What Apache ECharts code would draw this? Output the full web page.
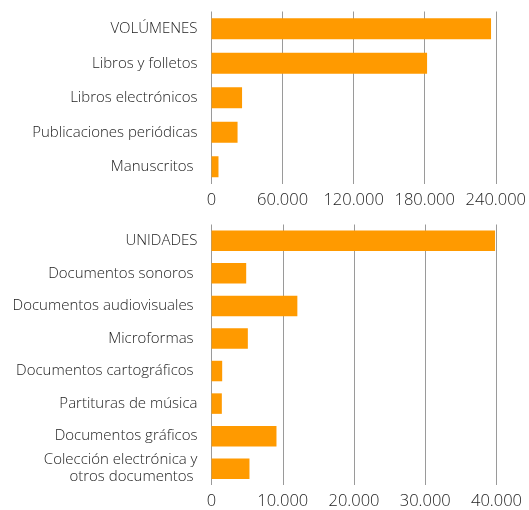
<!DOCTYPE html>
<html><head><meta charset="utf-8">
<script src="https://cdn.jsdelivr.net/npm/echarts@6/dist/echarts.min.js"></script>
<style>html,body{margin:0;padding:0;background:#fff}#c{width:529px;height:510px}</style>
</head><body><div id="c"></div>
<script>
const volCategories = ["VOLÚMENES", "Libros y folletos", "Libros electrónicos", "Publicaciones periódicas", "Manuscritos "];
const volValues = [236000, 182000, 25800, 22000, 5900];
const volTicks = [0, 60000, 120000, 180000, 240000];

const uniCategories = ["UNIDADES", "Documentos sonoros ", "Documentos audiovisuales ", "Microformas ", "Documentos cartográficos ", "Partituras de música", "Documentos gráficos", "Colección electrónica y\notros documentos "];
const uniValues = [39800, 4870, 12050, 5100, 1500, 1450, 9120, 5330];
const uniTicks = [0, 10000, 20000, 30000, 40000];

const FONT = "Open Sans";
const fmt = v => String(Math.round(v)).replace(/\B(?=(\d{3})+(?!\d))/g, ".");
const orange = "#ff9a00";

function xAx(gi, ticks) {
  return {
    type: "value", gridIndex: gi, min: ticks[0], max: ticks[ticks.length - 1],
    interval: ticks[1] - ticks[0],
    axisLine: { show: false }, axisTick: { show: false },
    splitLine: { show: true, lineStyle: { color: "#9a9a9a", width: 1 } },
    axisLabel: { formatter: fmt, color: "#222", fontFamily: FONT, fontWeight: 300, fontSize: 16.5, margin: 8 }
  };
}
function yAx(gi, cats) {
  return {
    type: "category", gridIndex: gi, data: cats, inverse: true,
    axisLine: { show: false }, axisTick: { show: false },
    axisLabel: { color: "#222", fontFamily: FONT, fontWeight: 300, fontSize: 15, margin: 14, lineHeight: 17 }
  };
}
const chart = echarts.init(document.getElementById("c"), null, { renderer: "canvas" });
chart.setOption({
  animation: false,
  grid: [
    { left: 211.5, right: 32.5, top: 11.5, height: 172.5 },
    { left: 211.5, right: 32.5, top: 224.5, height: 262 }
  ],
  xAxis: [xAx(0, volTicks), xAx(1, uniTicks)],
  yAxis: [yAx(0, volCategories), yAx(1, uniCategories)],
  series: [
    { type: "bar", xAxisIndex: 0, yAxisIndex: 0, data: volValues, barWidth: 21, itemStyle: { color: orange } },
    { type: "bar", xAxisIndex: 1, yAxisIndex: 1, data: uniValues, barWidth: 20.5, itemStyle: { color: orange } }
  ]
});
</script></body></html>
